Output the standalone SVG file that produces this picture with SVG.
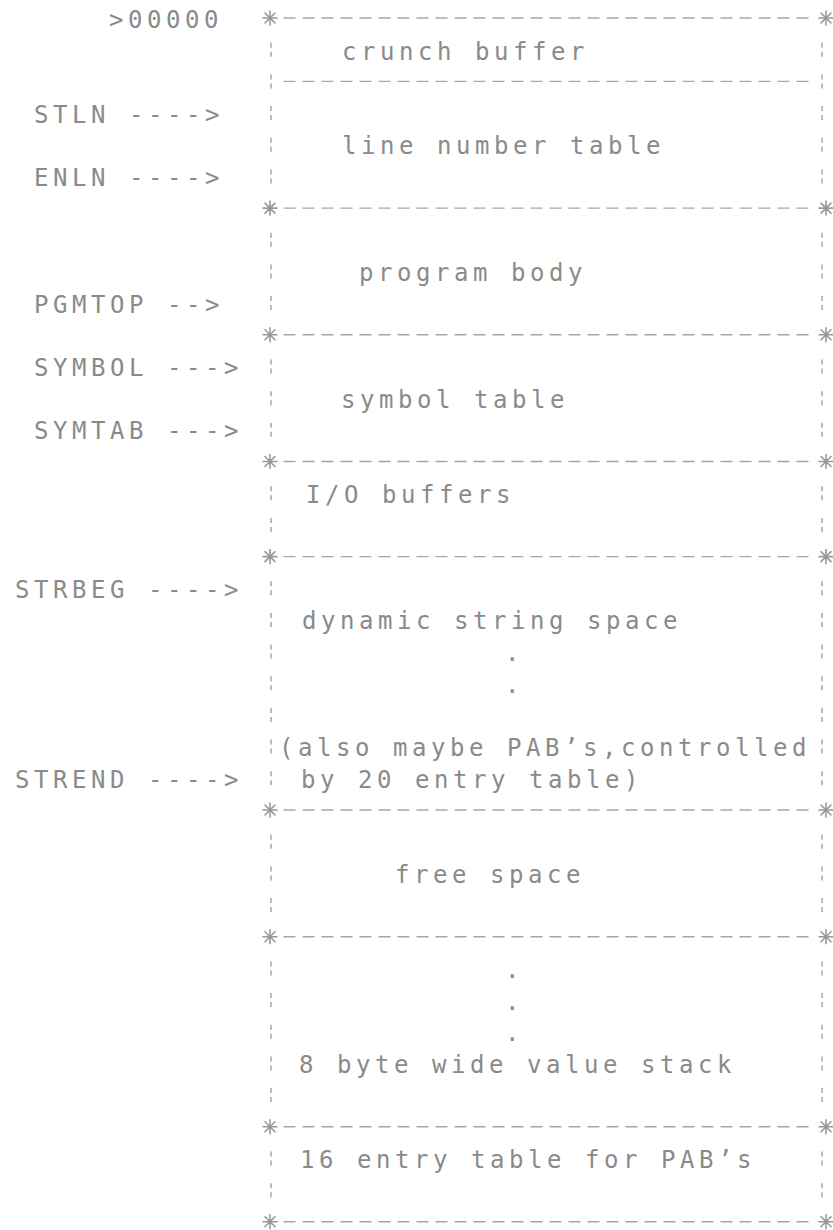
<svg xmlns="http://www.w3.org/2000/svg" xmlns:xlink="http://www.w3.org/1999/xlink" width="833" height="1230" viewBox="0 0 833 1230">
  <style>
    .t { font-family: "DejaVu Sans Mono", "Liberation Mono", monospace; font-size: 24px; letter-spacing: 4.55px; fill: #8a8a8a; white-space: pre; }
    .h { fill: none; stroke: #a6a6a6; stroke-width: 1.4; stroke-dasharray: 12 7; }
    .v { fill: none; stroke: #a6a6a6; stroke-width: 1.5; stroke-dasharray: 5 4; }
    .star { fill: none; stroke: #999; stroke-width: 1.6; stroke-linecap: round; }
  </style>
  <defs>
    <!-- corner mark of the printed frame -->
    <g id="corner" class="star">
      <path d="M-7 0H7M0 -7V7M-5 -5L5 5M-5 5L5 -5"/>
    </g>
  </defs>
  <rect width="833" height="1230" fill="#fff"/>

  <!-- frame: horizontal rules, side bars and corners -->
  <g id="frame">
    <path class="h" d="M283.5 18h525M283.5 81.4h525M283.5 208.1h525M283.5 334.8h525M283.5 461.5h525M283.5 556.6h525M283.5 810h525M283.5 936.7h525M283.5 1126.8h525M283.5 1221.8h525"/>
    <path class="v" d="M271 42.7v14M271 74.4v14M271 106v14M271 137.7v14M271 169.4v14M271 232.8v14M271 264.4v14M271 296.1v14M271 359.5v14M271 391.2v14M271 422.8v14M271 486.2v14M271 517.9v14M271 581.2v14M271 612.9v14M271 644.6v14M271 676.3v14M271 708v14M271 739.6v14M271 771.3v14M271 834.7v14M271 866.4v14M271 898v14M271 961.4v14M271 993.1v14M271 1024.8v14M271 1056.4v14M271 1088.1v14M271 1151.5v14M271 1183.2v14"/>
    <path class="v" d="M822 42.7v14M822 74.4v14M822 106v14M822 137.7v14M822 169.4v14M822 232.8v14M822 264.4v14M822 296.1v14M822 359.5v14M822 391.2v14M822 422.8v14M822 486.2v14M822 517.9v14M822 581.2v14M822 612.9v14M822 644.6v14M822 676.3v14M822 708v14M822 739.6v14M822 771.3v14M822 834.7v14M822 866.4v14M822 898v14M822 961.4v14M822 993.1v14M822 1024.8v14M822 1056.4v14M822 1088.1v14M822 1151.5v14M822 1183.2v14"/>
    <use xlink:href="#corner" x="270" y="18"/>
    <use xlink:href="#corner" x="826" y="18"/>
    <use xlink:href="#corner" x="270" y="208.1"/>
    <use xlink:href="#corner" x="826" y="208.1"/>
    <use xlink:href="#corner" x="270" y="334.8"/>
    <use xlink:href="#corner" x="826" y="334.8"/>
    <use xlink:href="#corner" x="270" y="461.5"/>
    <use xlink:href="#corner" x="826" y="461.5"/>
    <use xlink:href="#corner" x="270" y="556.6"/>
    <use xlink:href="#corner" x="826" y="556.6"/>
    <use xlink:href="#corner" x="270" y="810"/>
    <use xlink:href="#corner" x="826" y="810"/>
    <use xlink:href="#corner" x="270" y="936.7"/>
    <use xlink:href="#corner" x="826" y="936.7"/>
    <use xlink:href="#corner" x="270" y="1126.8"/>
    <use xlink:href="#corner" x="826" y="1126.8"/>
    <use xlink:href="#corner" x="270" y="1221.8"/>
    <use xlink:href="#corner" x="826" y="1221.8"/>
  </g>

  <!-- regions of memory -->
  <g id="crunch-buffer">
    <text class="t" x="342" y="60" xml:space="preserve">crunch buffer</text>
  </g>
  <g id="line-number-table">
    <text class="t" x="342" y="154.2" xml:space="preserve">line number table</text>
  </g>
  <g id="program-body">
    <text class="t" x="359" y="280.9" xml:space="preserve">program body</text>
  </g>
  <g id="symbol-table">
    <text class="t" x="341" y="407.7" xml:space="preserve">symbol table</text>
  </g>
  <g id="io-buffers">
    <text class="t" x="306" y="502.7" xml:space="preserve">I/O buffers</text>
  </g>
  <g id="string-space">
    <text class="t" x="505" y="661.1">.</text>
    <text class="t" x="505" y="692.8">.</text>
    <text class="t" x="302" y="629.4" xml:space="preserve">dynamic string space</text>
    <text class="t" x="279" y="756.1" xml:space="preserve">(also maybe PAB’s,controlled</text>
    <text class="t" x="301" y="787.8" xml:space="preserve">by 20 entry table)</text>
  </g>
  <g id="free-space">
    <text class="t" x="395" y="882.9" xml:space="preserve">free space</text>
  </g>
  <g id="value-stack">
    <text class="t" x="505" y="977.9">.</text>
    <text class="t" x="505" y="1009.6">.</text>
    <text class="t" x="505" y="1041.3">.</text>
    <text class="t" x="299" y="1072.9" xml:space="preserve">8 byte wide value stack</text>
  </g>
  <g id="pab-table">
    <text class="t" x="300" y="1168" xml:space="preserve">16 entry table for PAB’s</text>
  </g>

  <!-- pointer labels -->
  <g id="pointers">
    <text class="t" x="109" y="27.5" xml:space="preserve">&gt;00000</text>
    <text class="t" x="34" y="122.5" xml:space="preserve">STLN ----&gt;</text>
    <text class="t" x="34" y="185.9" xml:space="preserve">ENLN ----&gt;</text>
    <text class="t" x="34" y="312.6" xml:space="preserve">PGMTOP --&gt;</text>
    <text class="t" x="34" y="376" xml:space="preserve">SYMBOL ---&gt;</text>
    <text class="t" x="34" y="439.3" xml:space="preserve">SYMTAB ---&gt;</text>
    <text class="t" x="15" y="597.7" xml:space="preserve">STRBEG ----&gt;</text>
    <text class="t" x="15" y="787.8" xml:space="preserve">STREND ----&gt;</text>
  </g>
</svg>
